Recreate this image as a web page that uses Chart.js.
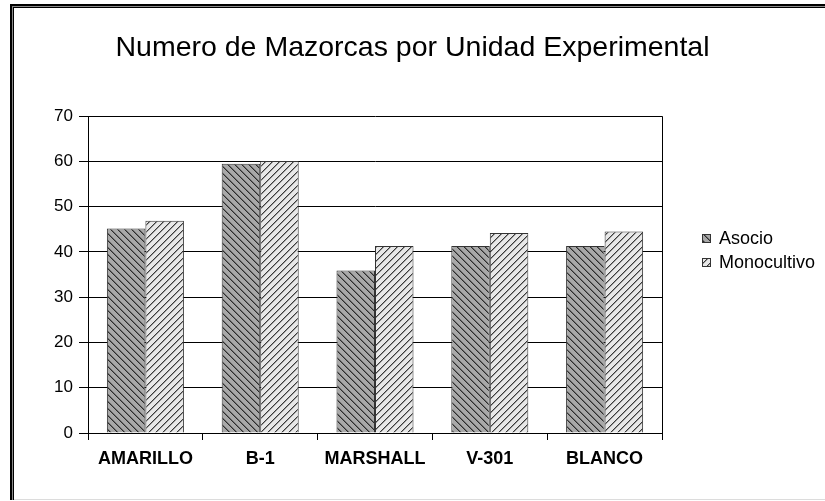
<!DOCTYPE html>
<html>
<head>
<meta charset="utf-8">
<title>Numero de Mazorcas por Unidad Experimental</title>
<script src="https://cdn.jsdelivr.net/npm/chart.js@4.4.1/dist/chart.umd.min.js"></script>
<style>
  html, body { margin: 0; padding: 0; background: #fff; }
  #wrap { width: 825px; height: 501px; }
</style>
</head>
<body>
<div id="wrap"><canvas id="mazorcasChart" width="825" height="501"></canvas></div>
<script>
const categories = ["AMARILLO", "B-1", "MARSHALL", "V-301", "BLANCO"];
const asocio = [45.2, 59.5, 35.9, 41.3, 41.3];
const monocultivo = [46.9, 60.1, 41.3, 44.2, 44.5];
const seriesNames = ["Asocio", "Monocultivo"];
const yMin = 0;
const yMax = 70;
const yStep = 10;

Chart.defaults.font.family = "'Liberation Sans', Arial, sans-serif";
Chart.defaults.color = "#000";

// hatch fill like the old excel patterns
function makeHatch(base, line, soft, forward) {
  const size = 7;
  const c = document.createElement("canvas");
  c.width = size;
  c.height = size;
  const g = c.getContext("2d");
  g.fillStyle = base;
  g.fillRect(0, 0, size, size);
  for (let i = 0; i < size; i++) {
    const x = forward ? size - 1 - i : i;
    g.fillStyle = line;
    g.fillRect(x, i, 1, 1);
    g.fillStyle = soft;
    g.fillRect((x + 1) % size, i, 1, 1);
  }
  return g.createPattern(c, "repeat");
}

const asocioFill = makeHatch("#a8a8a8", "#2c2c2c", "#6e6e6e", false);
const monoFill = makeHatch("#e8e8e8", "#3a3a3a", "#9a9a9a", true);

const framePlugin = {
  id: "frame",
  beforeDraw(chart) {
    const ctx = chart.ctx;
    const w = chart.width;
    const h = chart.height;
    ctx.save();
    ctx.fillStyle = "#fff";
    ctx.fillRect(0, 0, w, h);
    ctx.fillStyle = "#000";
    ctx.fillRect(10, 4, w - 10, 2);
    ctx.fillRect(10, 4, 2, h - 5);
    ctx.fillStyle = "#8a8a8a";
    ctx.fillRect(12, 6, w - 12, 1);
    ctx.fillRect(12, 6, 1, h - 7);
    ctx.fillStyle = "#000";
    ctx.fillRect(13, 7, w - 13, 1);
    ctx.fillRect(13, 7, 1, h - 8);
    ctx.fillStyle = "#dcdcdc";
    ctx.fillRect(14, h - 2, w - 14, 1);
    ctx.restore();
  },
  beforeDatasetsDraw(chart) {
    const { ctx, chartArea } = chart;
    ctx.save();
    ctx.strokeStyle = "#000";
    ctx.lineWidth = 1;
    const x = Math.round(chartArea.right) + 0.5;
    ctx.beginPath();
    ctx.moveTo(x, chartArea.top);
    ctx.lineTo(x, chartArea.bottom);
    ctx.stroke();
    ctx.restore();
  },
  afterDraw(chart) {
    const { ctx, chartArea } = chart;
    const left = chartArea.right + 40;
    ctx.save();
    ctx.font = "18px 'Liberation Sans', Arial, sans-serif";
    ctx.textBaseline = "middle";
    chart.data.datasets.forEach((ds, i) => {
      const top = 234 + i * 24;
      ctx.fillStyle = ds.backgroundColor;
      ctx.fillRect(left, top, 9, 9);
      ctx.strokeStyle = "#333";
      ctx.lineWidth = 1;
      ctx.strokeRect(left + 0.5, top + 0.5, 8, 8);
      ctx.fillStyle = "#000";
      ctx.fillText(ds.label, left + 17, top + 5);
    });
    ctx.restore();
  },
};

const ctx = document.getElementById("mazorcasChart").getContext("2d");
new Chart(ctx, {
  type: "bar",
  data: {
    labels: categories,
    datasets: [
      {
        label: seriesNames[0],
        data: asocio,
        backgroundColor: asocioFill,
        borderColor: "#333",
        borderWidth: 1,
      },
      {
        label: seriesNames[1],
        data: monocultivo,
        backgroundColor: monoFill,
        borderColor: "#333",
        borderWidth: 1,
      },
    ],
  },
  options: {
    responsive: false,
    animation: false,
    layout: { padding: 0 },
    datasets: {
      bar: { categoryPercentage: 0.671, barPercentage: 1 },
    },
    plugins: {
      legend: { display: false },
      tooltip: { enabled: false },
      title: {
        display: true,
        text: "Numero de Mazorcas por Unidad Experimental",
        color: "#000",
        font: { size: 28.5, weight: "normal" },
        padding: { top: 31, bottom: 51 },
      },
    },
    scales: {
      x: {
        grid: {
          offset: true,
          drawOnChartArea: false,
          tickLength: 7,
          color: "#000",
        },
        border: { color: "#000" },
        ticks: {
          font: { size: 18, weight: "bold" },
          color: "#000",
          padding: 8,
        },
        afterFit: (scale) => {
          scale.height = 68;
        },
      },
      y: {
        min: yMin,
        max: yMax,
        ticks: {
          stepSize: yStep,
          font: { size: 17 },
          color: "#000",
          padding: 6,
        },
        grid: { color: "#000", tickLength: 9 },
        border: { color: "#000" },
        afterFit: (scale) => {
          scale.width = 88;
        },
      },
      // empty right axis, leaves room for the legend
      side: {
        position: "right",
        grid: { display: false },
        border: { display: false },
        ticks: { display: false },
        afterFit: (scale) => {
          scale.width = 163;
        },
      },
    },
  },
  plugins: [framePlugin],
});
</script>
</body>
</html>
